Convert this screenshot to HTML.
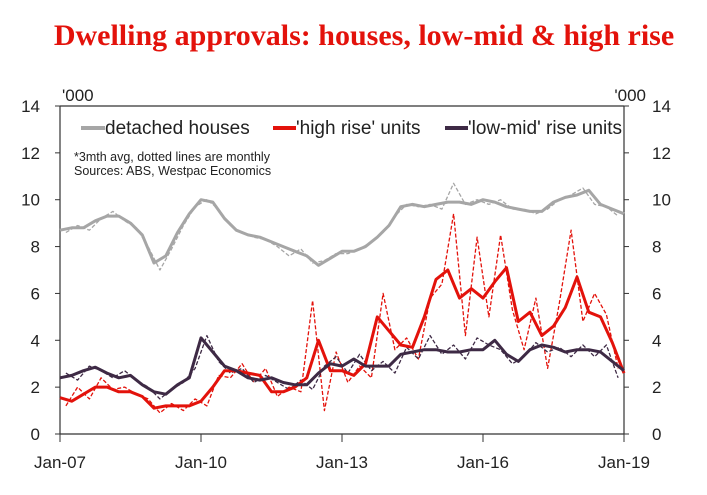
<!DOCTYPE html>
<html><head><meta charset="utf-8"><style>
body{margin:0;background:#fff;width:707px;height:490px;overflow:hidden;font-family:"Liberation Sans",sans-serif}
svg text{font-family:"Liberation Sans",sans-serif}
</style></head><body>
<svg id="c" width="707" height="490">
<text x="364" y="45" text-anchor="middle" fill="#e3120b" font-size="30" font-weight="bold" style="font-family:'Liberation Serif',serif">Dwelling approvals: houses, low-mid &amp; high rise</text>
<text x="62" y="101" font-size="17" fill="#222">'000</text>
<text x="646" y="101" font-size="17" fill="#222" text-anchor="end">'000</text>
<g id="axes"></g>
<g id="series"></g>
<g>
<line x1="81" y1="128" x2="105" y2="128" stroke="#a6a6a6" stroke-width="4"/>
<text x="105" y="134" font-size="19" fill="#222">detached houses</text>
<line x1="273" y1="128" x2="296" y2="128" stroke="#e3120b" stroke-width="4"/>
<text x="296" y="134" font-size="19" fill="#222">'high rise' units</text>
<line x1="445" y1="128" x2="468" y2="128" stroke="#3e2a45" stroke-width="4"/>
<text x="468" y="134" font-size="19" fill="#222">'low-mid' rise units</text>
</g>
<text x="74" y="161" font-size="12.5" fill="#222">*3mth avg, dotted lines are monthly</text>
<text x="74" y="175" font-size="12.5" fill="#222">Sources: ABS, Westpac Economics</text>
</svg>
<script>
const xLabels=["Jan-07","Jan-10","Jan-13","Jan-16","Jan-19"];
const yTicks=[0,2,4,6,8,10,12,14];
const detached=[8.7,8.8,8.8,9.1,9.3,9.3,9.0,8.5,7.3,7.6,8.6,9.4,10.0,9.9,9.2,8.7,8.5,8.4,8.2,8.0,7.8,7.6,7.2,7.5,7.8,7.8,8.0,8.4,8.9,9.7,9.8,9.7,9.8,9.9,9.9,9.8,10.0,9.9,9.7,9.6,9.5,9.5,9.9,10.1,10.2,10.4,9.8,9.6,9.4];
const highRise=[1.55,1.4,1.7,2.0,2.0,1.8,1.8,1.6,1.1,1.2,1.2,1.2,1.4,2.0,2.7,2.7,2.6,2.5,1.8,1.8,2.0,2.4,4.0,2.7,2.7,2.5,3.0,5.0,4.4,3.8,3.7,5.0,6.6,7.0,5.8,6.2,5.8,6.5,7.1,4.8,5.2,4.2,4.6,5.4,6.7,5.2,5.0,3.9,2.6];
const lowMid=[2.4,2.5,2.7,2.85,2.6,2.4,2.5,2.1,1.8,1.7,2.1,2.4,4.1,3.5,2.9,2.7,2.4,2.3,2.4,2.2,2.1,2.1,2.6,3.0,2.9,3.2,2.9,2.9,2.9,3.4,3.5,3.6,3.6,3.5,3.5,3.6,3.6,4.0,3.4,3.1,3.6,3.8,3.7,3.5,3.6,3.6,3.5,3.1,2.7];
const detachedM=[8.6,8.9,8.7,9.2,9.5,9.1,8.8,8.0,7.0,7.9,8.9,9.7,10.0,9.6,8.9,8.6,8.4,8.3,8.0,7.6,7.9,7.3,7.4,7.7,7.7,7.9,8.2,8.6,9.3,9.8,9.7,9.8,9.6,10.7,9.8,10.0,9.8,10.0,9.6,9.6,9.4,9.6,10.0,10.2,10.5,9.8,9.7,9.3];
const highRiseM=[1.2,2.0,1.5,2.4,1.9,2.0,1.7,1.5,0.9,1.3,1.0,1.5,1.2,2.5,2.4,3.0,2.2,2.8,1.6,2.0,1.8,5.7,1.0,3.5,2.2,2.9,2.4,6.0,3.6,4.1,3.2,5.8,6.4,9.4,4.2,8.4,5.0,8.5,5.3,3.6,5.8,2.8,5.6,8.7,4.8,6.0,5.1,2.8];
const lowMidM=[2.6,2.3,2.9,2.7,2.4,2.7,2.3,2.0,1.5,1.9,2.2,2.8,4.2,3.1,2.6,2.8,2.2,2.5,2.2,1.9,2.3,1.9,2.9,3.3,2.6,3.4,2.7,3.1,2.6,3.7,3.2,4.2,3.4,3.8,3.2,4.1,3.8,3.6,3.0,3.3,3.9,3.5,3.7,3.3,3.8,3.3,3.8,2.4];
const X0=60,X1=624,Y0=434,Y1=106;
const xs=t=>X0+(X1-X0)*t/12;
const ys=v=>Y0-(Y0-Y1)*v/14;
const NS="http://www.w3.org/2000/svg";
function mk(tag,attrs,parent){const e=document.createElementNS(NS,tag);for(const k in attrs)e.setAttribute(k,attrs[k]);parent.appendChild(e);return e;}
const ax=document.getElementById('axes');
let e;
e=mk('line',{x1:X0,y1:Y1,x2:X0,y2:Y0,stroke:'#333','stroke-width':1.2},ax);


e=mk('line',{x1:X1,y1:Y1,x2:X1,y2:Y0,stroke:'#333','stroke-width':1.2},ax);


e=mk('line',{x1:X0,y1:Y0,x2:X1,y2:Y0,stroke:'#333','stroke-width':1.2},ax);


e=mk('line',{x1:X0,y1:Y1,x2:X1,y2:Y1,stroke:'#333','stroke-width':1.2},ax);


yTicks.forEach(v=>{
 mk('line',{x1:X0-5,y1:ys(v),x2:X0,y2:ys(v),stroke:'#333'},ax);
 mk('line',{x1:X1,y1:ys(v),x2:X1+5,y2:ys(v),stroke:'#333'},ax);
 e=mk('text',{x:40,y:ys(v)+6,'font-size':17,'text-anchor':'end',fill:'#222'},ax);e.textContent=v;
 
 
 e=mk('text',{x:652,y:ys(v)+6,'font-size':17,fill:'#222'},ax);e.textContent=v;
 
 
});
xLabels.forEach((l,i)=>{
 const x=xs(i*3);
 mk('line',{x1:x,y1:Y0,x2:x,y2:Y0+8,stroke:'#333'},ax);
 e=mk('text',{x:x,y:468,'font-size':17,'text-anchor':'middle',fill:'#222'},ax);e.textContent=l;
 
 
});
const sg=document.getElementById('series');
function line(arr,off,color,w,dash,name){
 const d=arr.map((v,i)=>(i?'L':'M')+xs(i*0.25+off).toFixed(1)+','+ys(v).toFixed(1)).join('');
 const p=mk('path',{d:d,fill:'none',stroke:color,'stroke-width':w,'stroke-linejoin':'round'},sg);
 if(dash)p.setAttribute('stroke-dasharray',dash);
 
 
}
line(detachedM,0.125,'#a6a6a6',1.3,'4,2','detached-monthly-line');
line(highRiseM,0.125,'#e3120b',1.3,'4,2','high-rise-monthly-line');
line(lowMidM,0.125,'#3e2a45',1.3,'4,2','low-mid-monthly-line');
line(detached,0,'#a6a6a6',3,null,'detached-3mth-line');
line(highRise,0,'#e3120b',3,null,'high-rise-3mth-line');
line(lowMid,0,'#3e2a45',3,null,'low-mid-3mth-line');
</script>
</body></html>
